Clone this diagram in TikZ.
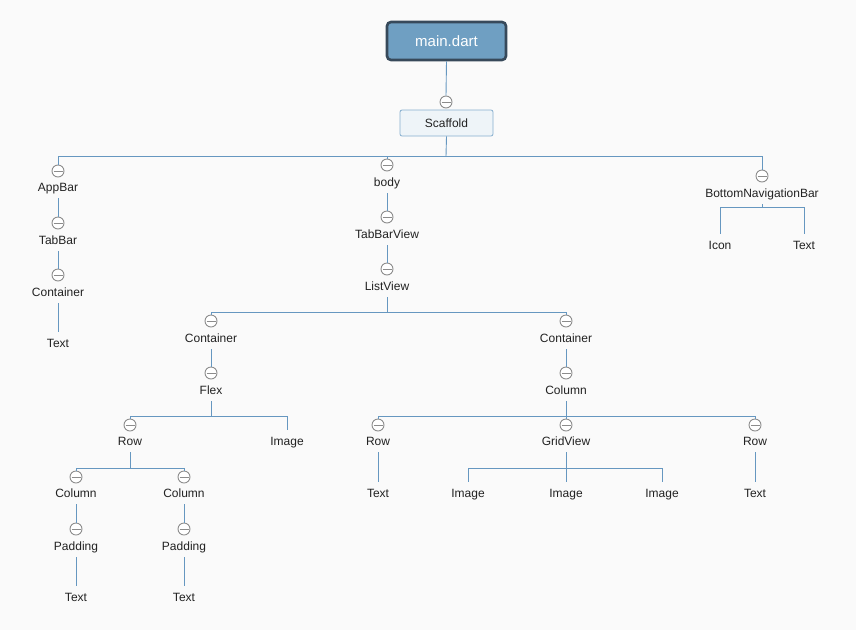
\documentclass[tikz,border=0pt]{standalone}
\usepackage{fontspec}
\setmainfont{Liberation Sans}
\begin{document}
\definecolor{bg}{HTML}{FAFAFA}
\definecolor{wirec}{HTML}{6697C0}
\definecolor{knobc}{HTML}{8C8C8C}
\definecolor{txt}{HTML}{222222}
\definecolor{rootfill}{HTML}{6F9FC2}
\definecolor{rootline}{HTML}{37495A}
\definecolor{scaffill}{HTML}{EEF4F8}
\definecolor{scafline}{HTML}{86AFCF}
\begin{tikzpicture}[x=1pt,y=-1pt,
  lbl/.style={font=\fontsize{12}{14}\selectfont, text=txt, inner xsep=0pt, inner ysep=5pt,
    text height=10.5pt, text depth=1.5pt},
  knob/.style={circle, draw=knobc, line width=0.9pt, fill=white, minimum size=12pt, inner sep=0pt,
    path picture={\draw[knobc, line width=0.9pt] ([xshift=1.5pt]path picture bounding box.west) -- ([xshift=-1.5pt]path picture bounding box.east);}},
  wire/.style={draw=wirec, line width=0.9pt},
  rootbox/.style={draw=rootline, line width=2.6pt, fill=rootfill, rounded corners=4pt,
    minimum width=119pt, minimum height=38pt, text=white, font=\fontsize{15}{18}\selectfont},
  scafbox/.style={draw=scafline, line width=0.8pt, fill=scaffill, rounded corners=2pt,
    minimum width=93pt, minimum height=26pt, text=txt, font=\fontsize{12}{14}\selectfont}
]
\fill[bg] (0,0) rectangle (856,630);
\useasboundingbox (0,0) rectangle (856,630);

% root and scaffold
\node[rootbox] (main) at (446.5,41) {main.dart};
\node[knob] (kScaf) at (446,102) {};
\node[scafbox] (scaf) at (446.5,123) {Scaffold};

% first level
\node[knob] (kApp) at (58,171) {};
\node[lbl] (app) at (58,187) {AppBar};
\node[knob] (kBody) at (387,165) {};
\node[lbl] (body) at (387,182) {body};
\node[knob] (kBnb) at (762,176) {};
\node[lbl] (bnb) at (762,193) {BottomNavigationBar};

% AppBar chain
\node[knob] (kTabBar) at (58,223) {};
\node[lbl] (tabbar) at (58,240) {TabBar};
\node[knob] (kCont0) at (58,275) {};
\node[lbl] (cont0) at (58,292) {Container};
\node[lbl] (text0) at (58,343) {Text};

% bottom navigation children
\node[lbl] (icon) at (720,245) {Icon};
\node[lbl] (textB) at (804,245) {Text};

% body chain
\node[knob] (kTbv) at (387,217) {};
\node[lbl] (tbv) at (387,234) {TabBarView};
\node[knob] (kList) at (387,269) {};
\node[lbl] (list) at (387,286) {ListView};

% left container
\node[knob] (kContL) at (211,321) {};
\node[lbl] (contL) at (211,338) {Container};
\node[knob] (kFlex) at (211,373) {};
\node[lbl] (flex) at (211,390) {Flex};
\node[knob] (kRowL) at (130,425) {};
\node[lbl] (rowL) at (130,441) {Row};
\node[lbl] (imgL) at (287,441) {Image};
\node[knob] (kCol1) at (76,477) {};
\node[lbl] (col1) at (76,493) {Column};
\node[knob] (kCol2) at (184,477) {};
\node[lbl] (col2) at (184,493) {Column};
\node[knob] (kPad1) at (76,529) {};
\node[lbl] (pad1) at (76,546) {Padding};
\node[knob] (kPad2) at (184,529) {};
\node[lbl] (pad2) at (184,546) {Padding};
\node[lbl] (text1) at (76,597) {Text};
\node[lbl] (text2) at (184,597) {Text};

% right container
\node[knob] (kContR) at (566,321) {};
\node[lbl] (contR) at (566,338) {Container};
\node[knob] (kColR) at (566,373) {};
\node[lbl] (colR) at (566,390) {Column};
\node[knob] (kRowA) at (378,425) {};
\node[lbl] (rowA) at (378,441) {Row};
\node[knob] (kGrid) at (566,425) {};
\node[lbl] (grid) at (566,441) {GridView};
\node[knob] (kRowB) at (755,425) {};
\node[lbl] (rowB) at (755,441) {Row};
\node[lbl] (textA) at (378,493) {Text};
\node[lbl] (textC) at (755,493) {Text};
\node[lbl] (img1) at (468,493) {Image};
\node[lbl] (img2) at (566,493) {Image};
\node[lbl] (img3) at (662,493) {Image};

% branch points
\coordinate (bScaf) at (446,156);
\coordinate (bBnb) at (762,207);
\coordinate (bList) at (387,312);
\coordinate (bFlex) at (211,416);
\coordinate (bRowL) at (130,468);
\coordinate (bColR) at (566,416);
\coordinate (bGrid) at (566,468);

% connectors
\draw[wire] (main.south) -- (kScaf.north);
\draw[wire] (scaf.south) -- (bScaf);
\draw[wire] (bScaf) -| (kApp.north);
\draw[wire] (bScaf) -| (kBody.north);
\draw[wire] (bScaf) -| (kBnb.north);

\draw[wire] (app.south) -- (kTabBar.north);
\draw[wire] (tabbar.south) -- (kCont0.north);
\draw[wire] (cont0.south) -- (text0.north);

\draw[wire] (bnb.south) -- (bBnb);
\draw[wire] (bBnb) -| (icon.north);
\draw[wire] (bBnb) -| (textB.north);

\draw[wire] (body.south) -- (kTbv.north);
\draw[wire] (tbv.south) -- (kList.north);
\draw[wire] (list.south) -- (bList);
\draw[wire] (bList) -| (kContL.north);
\draw[wire] (bList) -| (kContR.north);

\draw[wire] (contL.south) -- (kFlex.north);
\draw[wire] (flex.south) -- (bFlex);
\draw[wire] (bFlex) -| (kRowL.north);
\draw[wire] (bFlex) -| (imgL.north);
\draw[wire] (rowL.south) -- (bRowL);
\draw[wire] (bRowL) -| (kCol1.north);
\draw[wire] (bRowL) -| (kCol2.north);
\draw[wire] (col1.south) -- (kPad1.north);
\draw[wire] (col2.south) -- (kPad2.north);
\draw[wire] (pad1.south) -- (text1.north);
\draw[wire] (pad2.south) -- (text2.north);

\draw[wire] (contR.south) -- (kColR.north);
\draw[wire] (colR.south) -- (bColR);
\draw[wire] (bColR) -| (kRowA.north);
\draw[wire] (bColR) -- (kGrid.north);
\draw[wire] (bColR) -| (kRowB.north);
\draw[wire] (rowA.south) -- (textA.north);
\draw[wire] (rowB.south) -- (textC.north);
\draw[wire] (grid.south) -- (bGrid);
\draw[wire] (bGrid) -| (img1.north);
\draw[wire] (bGrid) -- (img2.north);
\draw[wire] (bGrid) -| (img3.north);
\end{tikzpicture}
\end{document}
